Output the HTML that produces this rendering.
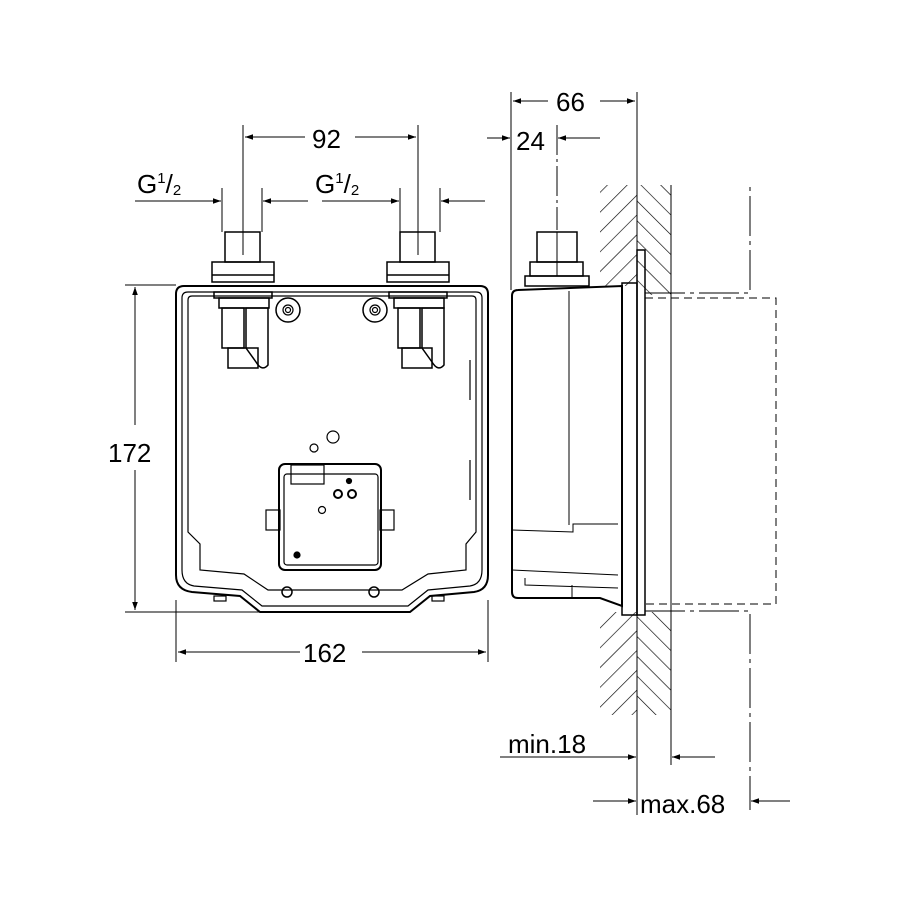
<!DOCTYPE html>
<html><head><meta charset="utf-8"><style>
html,body{margin:0;padding:0;background:#fff;width:900px;height:900px;overflow:hidden}
text{font-family:"Liberation Sans",sans-serif;fill:#000}
</style></head><body>
<svg width="900" height="900" viewBox="0 0 900 900" xmlns="http://www.w3.org/2000/svg">
<defs>
<marker id="a" viewBox="0 0 10 10" refX="10" refY="5" markerWidth="14" markerHeight="8" markerUnits="userSpaceOnUse" orient="auto-start-reverse"><path d="M0,1.5 L10,5 L0,8.5 z" fill="#000"/></marker>
<pattern id="h" patternUnits="userSpaceOnUse" width="14" height="14" patternTransform="rotate(45)"><line x1="0" y1="0" x2="0" y2="14" stroke="#000" stroke-width="1.3"/></pattern>
<pattern id="h2" patternUnits="userSpaceOnUse" width="14" height="14" patternTransform="rotate(-45)"><line x1="0" y1="0" x2="0" y2="14" stroke="#000" stroke-width="1.3"/></pattern>
</defs>
<g fill="none" stroke="#000" stroke-width="1.2">
<!-- front view body -->
<path d="M184,286 H480 Q488,286 488,294 V575 Q488,590 474,592 L430,596 L410,612 H260 L240,596 L192,592 Q176,590 176,575 V294 Q176,286 184,286 Z" stroke-width="2"/>
<path d="M188,292 H476 Q482,292 482,298 V570 Q482,584 470,586 L428,590 L408,606 H262 L242,590 L194,586 Q182,584 182,570 V298 Q182,292 188,292 Z"/>
<path d="M192,296 H472 Q476,296 476,300 V532 L466,544 V570 L428,574 L402,590 H268 L244,574 L200,570 V544 L188,532 V300 Q188,296 192,296Z"/>
<!-- ears -->
<circle cx="288" cy="310" r="12" stroke-width="1.5"/><circle cx="288" cy="310" r="5"/><circle cx="288" cy="310" r="2.5"/>
<circle cx="375" cy="310" r="12" stroke-width="1.5"/><circle cx="375" cy="310" r="5"/><circle cx="375" cy="310" r="2.5"/>
<circle cx="287" cy="592" r="5" stroke-width="1.5"/><circle cx="374" cy="592" r="5" stroke-width="1.5"/>
<!-- pipes front -->
<g stroke-width="1.5">
<rect x="225" y="232" width="35" height="30"/><rect x="212" y="262" width="62" height="20"/><line x1="212" y1="275" x2="274" y2="275"/>
<rect x="214" y="292" width="58" height="6"/><rect x="219" y="298" width="50" height="10"/>
<rect x="222" y="308" width="22" height="40"/><rect x="228" y="348" width="30" height="20"/>
<path d="M246,308 H268 V365 Q262,372 256,362 L246,348 Z"/>
<rect x="400" y="232" width="35" height="30"/><rect x="387" y="262" width="62" height="20"/><line x1="387" y1="275" x2="449" y2="275"/>
<rect x="389" y="292" width="58" height="6"/><rect x="394" y="298" width="50" height="10"/>
<rect x="398" y="308" width="22" height="40"/><rect x="402" y="348" width="30" height="20"/>
<path d="M422,308 H444 V365 Q438,372 432,362 L422,348 Z"/>
</g>
<!-- electronics box -->
<rect x="279" y="464" width="102" height="106" rx="6" stroke-width="2"/>
<rect x="284" y="474" width="94" height="91" rx="3"/>
<rect x="291" y="465" width="33" height="19"/>
<circle cx="333" cy="437" r="6"/><circle cx="314" cy="448" r="4"/>
<circle cx="338" cy="494" r="4" stroke-width="2"/><circle cx="352" cy="494" r="4" stroke-width="2"/><circle cx="322" cy="510" r="3.5"/>
<circle cx="349" cy="481" r="2.5" fill="#000"/><circle cx="297" cy="555" r="3" fill="#000"/>
<rect x="266" y="510" width="14" height="20"/><rect x="380" y="510" width="14" height="20"/>
<line x1="470" y1="360" x2="470" y2="400" /><line x1="470" y1="460" x2="470" y2="500"/>
<rect x="214" y="596" width="12" height="5"/><rect x="432" y="596" width="12" height="5"/>
</g>
<g fill="none" stroke="#000" stroke-width="1">
<!-- 172 -->
<line x1="125" y1="285" x2="176" y2="285"/><line x1="125" y1="612" x2="260" y2="612"/>
<line x1="135" y1="287" x2="135" y2="425" marker-start="url(#a)"/><line x1="135" y1="470" x2="135" y2="610" marker-end="url(#a)"/>
<!-- 162 -->
<line x1="176" y1="600" x2="176" y2="662"/><line x1="488" y1="600" x2="488" y2="662"/>
<line x1="178" y1="652" x2="300" y2="652" marker-start="url(#a)"/><line x1="362" y1="652" x2="486" y2="652" marker-end="url(#a)"/>
<!-- 92 -->
<line x1="243" y1="125" x2="243" y2="255"/><line x1="418" y1="125" x2="418" y2="255"/>
<line x1="245" y1="137" x2="305" y2="137" marker-start="url(#a)"/><line x1="355" y1="137" x2="416" y2="137" marker-end="url(#a)"/>
<!-- G1/2 -->
<line x1="222" y1="188" x2="222" y2="232"/><line x1="262" y1="188" x2="262" y2="232"/>
<line x1="135" y1="201" x2="221" y2="201" marker-end="url(#a)"/><line x1="263" y1="201" x2="308" y2="201" marker-start="url(#a)"/>
<line x1="400" y1="188" x2="400" y2="232"/><line x1="440" y1="188" x2="440" y2="232"/>
<line x1="322" y1="201" x2="399" y2="201" marker-end="url(#a)"/><line x1="441" y1="201" x2="485" y2="201" marker-start="url(#a)"/>
</g>
<text x="108" y="462" font-size="26">172</text>
<text x="303" y="662" font-size="26">162</text>
<text x="312" y="148" font-size="26">92</text>
<text x="137" y="193" font-size="26">G<tspan font-size="15" dy="-10">1</tspan><tspan dy="10">/</tspan><tspan font-size="15" dy="2">2</tspan></text>
<text x="315" y="193" font-size="26">G<tspan font-size="15" dy="-10">1</tspan><tspan dy="10">/</tspan><tspan font-size="15" dy="2">2</tspan></text>
<!-- side view -->
<rect x="600" y="185" width="37" height="110" fill="url(#h)"/>
<rect x="637" y="185" width="34" height="110" fill="url(#h2)"/>
<rect x="600" y="612" width="37" height="103" fill="url(#h)"/>
<rect x="637" y="612" width="34" height="103" fill="url(#h2)"/>
<rect x="600" y="286" width="37" height="320" fill="#fff"/>
<rect x="645" y="296" width="26" height="310" fill="#fff"/>
<g fill="none" stroke="#000" stroke-width="1.5">
<line x1="671" y1="185" x2="671" y2="765" stroke-width="1"/>
<line x1="637" y1="185" x2="637" y2="815" stroke-width="1"/>
<rect x="637" y="250" width="8" height="365"/>
<rect x="622" y="283" width="15" height="332"/>
<path d="M518,290 L622,286 V606 L600,598 H518 Q512,598 512,592 V296 Q512,290 518,290Z" stroke-width="2"/>
<line x1="569" y1="291" x2="569" y2="525" stroke-width="1"/>
<path d="M512,530 L573,532 V524 L618,524" stroke-width="1"/>
<path d="M512,570 L618,575 M525,578 V585 L618,588 M572,585 V598" stroke-width="1"/>
<rect x="537" y="232" width="40" height="30"/><rect x="530" y="262" width="53" height="14"/><rect x="525" y="276" width="64" height="10"/>
<line x1="557" y1="232" x2="557" y2="276" stroke-width="1"/>
<line x1="511" y1="92" x2="511" y2="290" stroke-width="1"/>
<line x1="557" y1="125" x2="557" y2="230" stroke-width="1" stroke-dasharray="30,4,3,4"/>
<path d="M645,293 H750 V185 M645,611 H750 V810" stroke-width="1" stroke-dasharray="40,5,4,5"/>
<path d="M645,298 H776 V604 H645" stroke-width="1" stroke-dasharray="8,5"/>
</g>
<g fill="none" stroke="#000" stroke-width="1">
<line x1="513" y1="101" x2="548" y2="101" marker-start="url(#a)"/><line x1="600" y1="101" x2="635" y2="101" marker-end="url(#a)"/>
<line x1="637" y1="92" x2="637" y2="185"/>
<line x1="487" y1="138" x2="510" y2="138" marker-end="url(#a)"/><line x1="558" y1="138" x2="600" y2="138" marker-start="url(#a)"/>
<line x1="500" y1="757" x2="636" y2="757" marker-end="url(#a)"/><line x1="672" y1="757" x2="715" y2="757" marker-start="url(#a)"/>
<line x1="593" y1="801" x2="636" y2="801" marker-end="url(#a)"/><line x1="751" y1="801" x2="790" y2="801" marker-start="url(#a)"/>
</g>
<text x="556" y="111" font-size="26">66</text>
<text x="516" y="150" font-size="26">24</text>
<text x="508" y="753" font-size="26">min.18</text>
<text x="640" y="813" font-size="26">max.68</text>
</svg>
</body></html>
